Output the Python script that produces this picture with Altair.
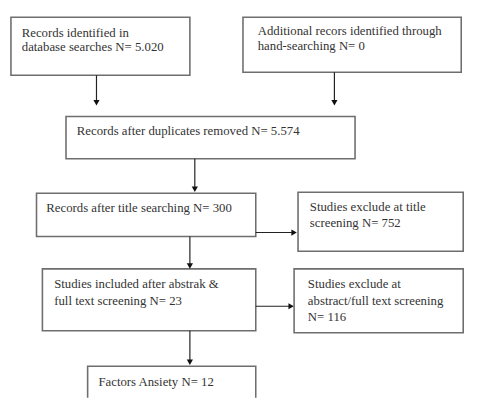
import altair as alt
import pandas as pd

# Box layout (reference pixel coordinates)
box_x1 = [11, 247, 67, 37, 303, 43, 299, 89]
box_x2 = [193, 469, 361, 260, 471, 260, 471, 260]
box_y1 = [14, 14, 115, 193, 192, 270, 270, 369]
box_y2 = [73, 70, 158, 237, 252, 333, 335, 404]

# Text lines
txt_lines = [
    "Records identified in", "database searches N= 5.020",
    "Additional recors identified through", "hand-searching N= 0",
    "Records after duplicates removed N= 5.574",
    "Records after title searching N= 300",
    "Studies exclude at title", "screening N= 752",
    "Studies included after abstrak &", "full text screening N= 23",
    "Studies exclude at", "abstract/full text screening", "N= 116",
    "Factors Ansiety N= 12",
]
txt_x = [22, 22, 262, 262, 78, 47, 315, 315, 55, 55, 313, 313, 313, 100]
txt_y = [30, 44, 28, 43, 130, 208, 207, 223, 285, 303, 285, 303, 319, 385]

# Arrows: start, end, direction
arr_x1 = [98, 340, 198, 193, 260, 193, 260]
arr_y1 = [73, 70, 158, 237, 233, 333, 308]
arr_x2 = [98, 340, 198, 193, 299, 193, 296]
arr_y2 = [101, 101, 189, 267, 233, 365, 308]
arr_dir = ["down", "down", "down", "down", "right", "down", "right"]

boxes = pd.DataFrame({"x1": box_x1, "x2": box_x2, "y1": box_y1, "y2": box_y2})
texts = pd.DataFrame({"x": txt_x, "y": txt_y, "t": txt_lines})
arrows = pd.DataFrame({"x1": arr_x1, "y1": arr_y1, "x2": arr_x2, "y2": arr_y2, "d": arr_dir})

xs = alt.Scale(domain=[8, 483], nice=False, zero=False)
ys = alt.Scale(domain=[401, 8], nice=False, zero=False)

rects = alt.Chart(boxes).mark_rect(fill="white", stroke="#6e6e6e", strokeWidth=1.6, clip=True).encode(
    x=alt.X("x1:Q", scale=xs, axis=None), x2="x2:Q",
    y=alt.Y("y1:Q", scale=ys, axis=None), y2="y2:Q",
)

lines = alt.Chart(arrows).mark_rule(color="#222", strokeWidth=1.2).encode(
    x=alt.X("x1:Q", scale=xs, axis=None), x2="x2:Q",
    y=alt.Y("y1:Q", scale=ys, axis=None), y2="y2:Q",
)

heads_down = alt.Chart(arrows).transform_filter(alt.datum.d == "down").mark_point(
    shape="triangle-down", filled=True, color="#111", size=40, opacity=1
).encode(
    x=alt.X("x2:Q", scale=xs, axis=None), y=alt.Y("y2:Q", scale=ys, axis=None)
)
heads_right = alt.Chart(arrows).transform_filter(alt.datum.d == "right").mark_point(
    shape="triangle-right", filled=True, color="#111", size=40, opacity=1
).encode(
    x=alt.X("x2:Q", scale=xs, axis=None), y=alt.Y("y2:Q", scale=ys, axis=None)
)

labels = alt.Chart(texts).mark_text(
    align="left", baseline="middle", font="Liberation Serif",
    fontSize=13, color="#333"
).encode(
    x=alt.X("x:Q", scale=xs, axis=None), y=alt.Y("y:Q", scale=ys, axis=None), text="t:N"
)

chart = alt.layer(rects, lines, heads_down, heads_right, labels).properties(
    width=475, height=393, padding=0, autosize=alt.AutoSizeParams(type="none"),
    background="white",
).configure_view(stroke=None)

chart.save("out.html", embed_options={"renderer": "svg", "actions": False})
